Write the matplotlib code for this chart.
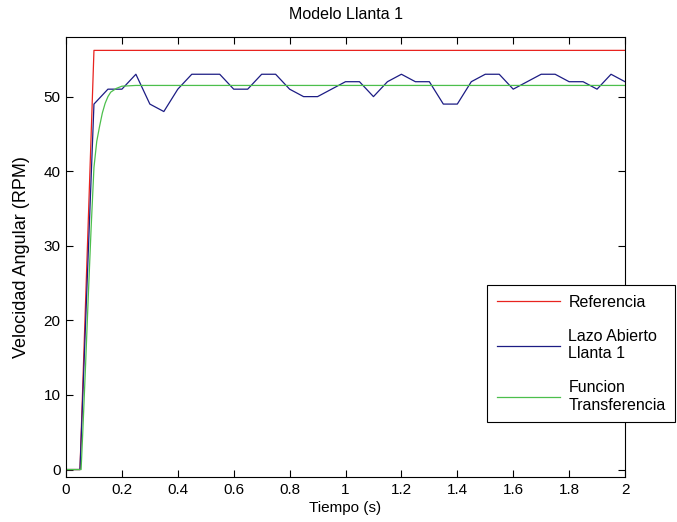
import matplotlib
matplotlib.use("Agg")
import matplotlib.pyplot as plt
from matplotlib import font_manager

fams = set(f.name for f in font_manager.fontManager.ttflist)
if 'Liberation Sans Narrow' in fams:
    plt.rcParams['font.family'] = ['Liberation Sans Narrow', 'Liberation Sans', 'DejaVu Sans']
else:
    plt.rcParams['font.family'] = ['Liberation Sans', 'DejaVu Sans']

# Reference (step)
t_ref = [0, 0.05, 0.1, 2.0]
v_ref = [0, 0, 56.2, 56.2]

# Open loop measurement (dt = 0.05 s)
t_blue = [round(0.05 * i, 2) for i in range(41)]
v_blue = [0, 0, 49, 51, 51, 53, 49, 48, 51, 53,
          53, 53, 51, 51, 53, 53, 51, 50, 50, 51,
          52, 52, 50, 52, 53, 52, 52, 49, 49, 52,
          53, 53, 51, 52, 53, 53, 52, 52, 51, 53,
          52]

# Transfer function response
t_green = [0, 0.054, 0.06, 0.07, 0.08, 0.09, 0.1, 0.11, 0.12, 0.13, 0.14,
           0.15, 0.16, 0.18, 0.2, 0.25, 2.0]
v_green = [0, 0, 5, 14, 23.5, 32.5, 40.5, 44, 46, 47.8, 49.1,
           50, 50.6, 51.1, 51.4, 51.5, 51.5]

xticks = [0, 0.2, 0.4, 0.6, 0.8, 1, 1.2, 1.4, 1.6, 1.8, 2]
xticklabels = ['0', '0.2', '0.4', '0.6', '0.8', '1', '1.2', '1.4', '1.6', '1.8', '2']
yticks = [0, 10, 20, 30, 40, 50]

fig = plt.figure(figsize=(6.77, 5.22), dpi=100)
ax = fig.add_axes([0.0975, 0.0862, 0.8257, 0.843])

ax.plot(t_ref, v_ref, color='#e8231f', lw=0.9, label='Referencia')
ax.plot(t_blue, v_blue, color='#1c1c84', lw=0.9, label='Lazo Abierto\nLlanta 1')
ax.plot(t_green, v_green, color='#4cbf4c', lw=0.9, label='Funcion\nTransferencia')

ax.set_xlim(0, 2)
ax.set_ylim(-1, 58)
ax.set_xticks(xticks)
ax.set_xticklabels(xticklabels)
ax.set_yticks(yticks)
ax.tick_params(direction='in', top=True, right=True, length=5, width=0.8,
               labelsize=11, colors='black', pad=4)
for s in ax.spines.values():
    s.set_linewidth(0.8)

ax.set_title('Modelo Llanta 1', fontsize=11.5, pad=13)
ax.set_xlabel('Tiempo (s)', fontsize=11, labelpad=3)
ax.set_ylabel('Velocidad Angular (RPM)', fontsize=13, labelpad=10)

leg = ax.legend(loc='upper left', bbox_to_anchor=(0.753, 0.436),
                fontsize=11.5, frameon=True, fancybox=False, edgecolor='black',
                framealpha=1, handlelength=4.0, handletextpad=0.5,
                borderpad=0.6, labelspacing=1.2, borderaxespad=0)
leg.get_frame().set_linewidth(0.8)

fig.savefig('out.png', dpi=100)
